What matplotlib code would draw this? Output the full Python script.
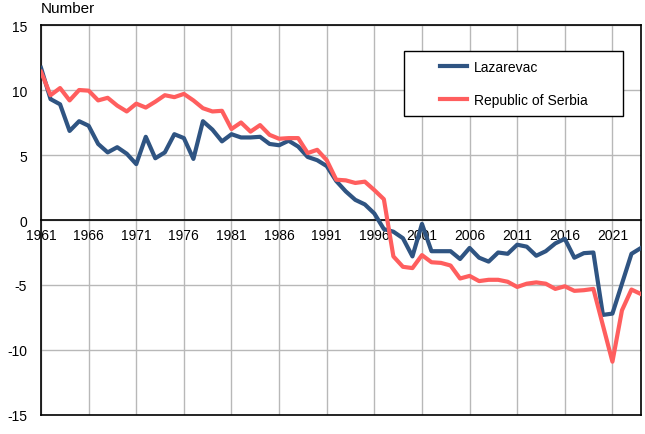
import matplotlib
matplotlib.use('Agg')
import matplotlib.pyplot as plt
from matplotlib.patches import Rectangle

plt.rcParams['font.family'] = ['Liberation Sans', 'DejaVu Sans']
plt.rcParams['font.size'] = 10
plt.rcParams['axes.unicode_minus'] = False

years = list(range(1961, 2025))
lazarevac = [11.7, 9.3, 8.9, 6.85, 7.6, 7.25, 5.85, 5.2, 5.6, 5.1,
             4.3, 6.4, 4.75, 5.2, 6.6, 6.3, 4.7, 7.6, 6.95, 6.05,
             6.6, 6.35, 6.35, 6.4, 5.85, 5.75, 6.1, 5.65, 4.85, 4.6,
             4.15, 3.0, 2.2, 1.55, 1.2, 0.5, -0.7, -0.9, -1.4, -2.8,
             -0.3, -2.4, -2.4, -2.4, -3.0, -2.15, -2.9, -3.2, -2.5, -2.6,
             -1.9, -2.05, -2.75, -2.4, -1.8, -1.45, -2.9, -2.55, -2.5, -7.3,
             -7.2, -4.9, -2.6, -2.15]
serbia = [11.4, 9.6, 10.15, 9.2, 10.0, 9.95, 9.2, 9.4, 8.8, 8.35,
          8.95, 8.65, 9.1, 9.6, 9.45, 9.7, 9.2, 8.6, 8.35, 8.4,
          7.0, 7.5, 6.8, 7.3, 6.55, 6.25, 6.3, 6.3, 5.15, 5.4,
          4.6, 3.1, 3.05, 2.85, 2.95, 2.3, 1.6, -2.8, -3.6, -3.7,
          -2.7, -3.25, -3.3, -3.5, -4.5, -4.3, -4.7, -4.6, -4.6, -4.75,
          -5.15, -4.9, -4.8, -4.9, -5.3, -5.1, -5.45, -5.4, -5.3, -8.1,
          -10.9, -6.95, -5.35, -5.7]
x_ticks = list(range(1961, 2022, 5))
y_ticks = [-15, -10, -5, 0, 5, 10, 15]

fig = plt.figure(figsize=(6.45, 4.35), dpi=100)
ax = fig.add_axes([0.0636, 0.0437, 0.9302, 0.8965])

ax.plot(years, lazarevac, color='#2f5482', lw=3, label='Lazarevac', zorder=3)
ax.plot(years, serbia, color='#ff5e5e', lw=3, label='Republic of Serbia', zorder=3)

ax.set_xlim(1961, 2024)
ax.set_ylim(-15, 15)
ax.set_xticks(x_ticks)
ax.set_yticks(y_ticks)
ax.grid(True, color='#b8b8b8', lw=1)
ax.set_axisbelow(True)

ax.spines['bottom'].set_position(('data', 0))
ax.axhline(-15, color='black', lw=1.2, zorder=4, clip_on=False)
for s in ax.spines.values():
    s.set_color('black')
    s.set_linewidth(1.2)
ax.tick_params(axis='both', length=0, labelsize=10, colors='black')
ax.tick_params(axis='x', pad=6)
ax.tick_params(axis='y', pad=10)

ax.text(0, 1.025, 'Number', transform=ax.transAxes, ha='left', va='bottom', fontsize=11)

ax.add_patch(Rectangle((0.605, 0.767), 0.365, 0.1667, transform=ax.transAxes,
                       facecolor='white', edgecolor='black', lw=1, zorder=5))
leg = ax.legend(loc='center', bbox_to_anchor=(0.7875, 0.85), frameon=False,
                handlelength=2, handletextpad=0.45, labelspacing=1.4, fontsize=10)
leg.set_zorder(6)

fig.savefig('out.png', dpi=100)
